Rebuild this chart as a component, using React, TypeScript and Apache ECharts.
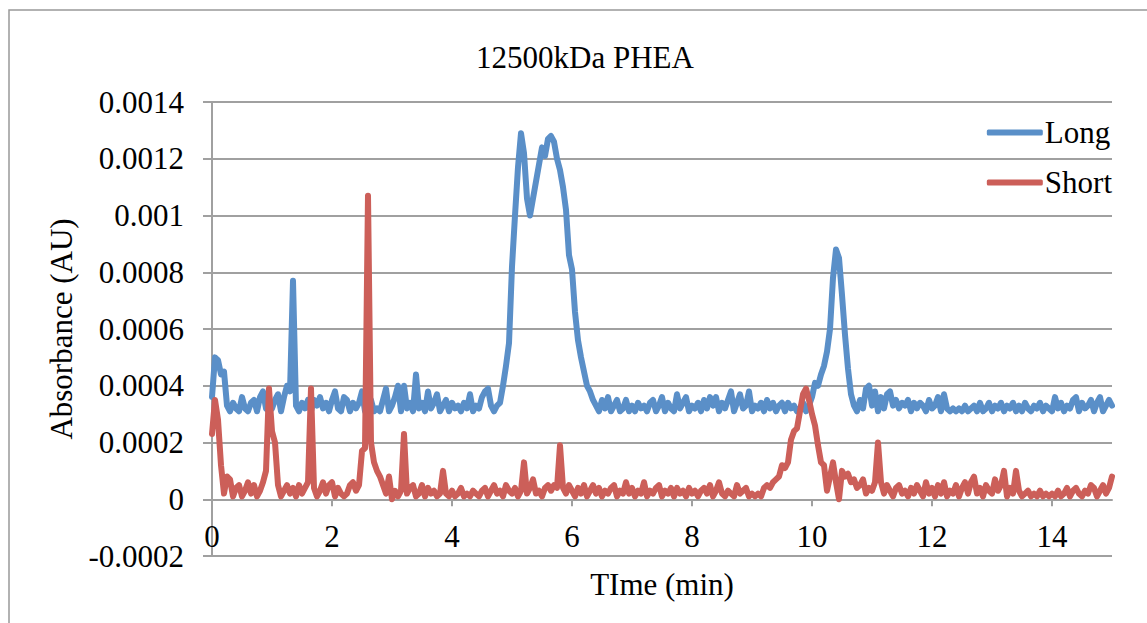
import React, { useEffect, useRef } from "react";
import * as echarts from "echarts";

// Sampling step of the chromatogram (min); values below are read at 0.00, 0.05, 0.10 ... 15.00 min
const TIME_STEP = 0.05;
// Absorbance values in units of 1e-5 AU
const UNIT = 1e-5;

const LONG = [
  36, 50, 49, 44, 45, 33, 31, 34, 32, 31, 36, 32, 31, 34, 35, 31, 36, 38, 32, 31,
  32, 35, 37, 31, 36, 40, 38, 77, 33, 31, 34, 32, 35, 31, 35, 33, 36, 32, 34, 31,
  35, 38, 32, 31, 36, 35, 31, 34, 32, 34, 38, 31, 33, 35, 31, 32, 31, 35, 39, 31,
  33, 36, 40, 31, 40, 32, 34, 31, 44, 32, 34, 31, 38, 32, 34, 37, 31, 33, 35, 31,
  34, 32, 33, 31, 34, 32, 37, 31, 33, 32, 36, 38, 39, 33, 31, 33, 34, 40, 47, 55,
  82, 100, 117, 129, 122, 106, 100, 106, 112, 118, 124, 121, 127, 128, 126, 120, 116, 110, 102, 86,
  81, 66, 56, 50, 45, 40, 38, 35, 33, 31, 35, 32, 36, 31, 33, 35, 31, 32, 35, 31,
  33, 31, 34, 32, 33, 31, 34, 35, 31, 33, 36, 31, 34, 32, 31, 37, 32, 34, 36, 31,
  33, 32, 34, 31, 35, 32, 36, 33, 36, 31, 34, 32, 35, 38, 31, 34, 37, 32, 33, 38,
  31, 33, 32, 34, 31, 35, 32, 34, 31, 33, 34, 31, 34, 32, 33, 31, 32, 34, 31, 33,
  36, 41, 40, 44, 47, 52, 60, 78, 88, 85, 72, 58, 46, 37, 33, 31, 35, 32, 39, 40,
  33, 38, 31, 36, 32, 37, 38, 33, 35, 32, 34, 33, 35, 31, 34, 32, 34, 33, 31, 35,
  32, 33, 36, 31, 37, 32, 31, 32, 31, 32, 31, 33, 31, 32, 33, 31, 34, 31, 32, 34,
  31, 33, 32, 34, 31, 33, 32, 34, 31, 33, 31, 34, 32, 31, 33, 32, 34, 31, 33, 32,
  31, 36, 32, 34, 31, 33, 32, 35, 36, 31, 34, 32, 33, 35, 31, 34, 36, 31, 33, 35,
  33,
];

const SHORT = [
  23, 35, 28, 12, 2, 8, 7, 1, 4, 5, 1, 3, 6, 2, 5, 1, 3, 6, 10, 39,
  24, 20, 5, 1, 3, 5, 2, 4, 1, 5, 2, 4, 6, 39, 4, 1, 3, 6, 2, 5,
  6, 1, 4, 2, 1, 2, 5, 6, 3, 5, 17, 18, 107, 20, 13, 10, 8, 5, 2, 8,
  0, 3, 1, 3, 23, 2, 4, 5, 1, 2, 5, 1, 4, 2, 3, 1, 2, 10, 2, 1,
  3, 1, 2, 4, 1, 2, 1, 3, 2, 1, 3, 4, 1, 3, 5, 2, 3, 1, 5, 3,
  2, 4, 1, 3, 13, 2, 4, 7, 2, 3, 1, 4, 5, 3, 5, 4, 19, 4, 2, 5,
  3, 1, 4, 2, 5, 1, 3, 5, 2, 4, 1, 3, 2, 4, 5, 1, 3, 2, 6, 2,
  4, 1, 3, 2, 6, 1, 3, 2, 4, 5, 1, 3, 2, 4, 1, 4, 2, 3, 1, 4,
  2, 3, 1, 3, 4, 2, 5, 1, 3, 6, 2, 1, 3, 2, 1, 5, 2, 3, 4, 1,
  2, 1, 2, 1, 4, 5, 4, 6, 7, 8, 12, 11, 13, 21, 24, 25, 31, 37, 39, 35,
  30, 26, 19, 13, 12, 3, 8, 13, 6, 0, 10, 8, 9, 6, 7, 4, 5, 7, 2, 4,
  3, 6, 20, 6, 2, 5, 3, 1, 4, 5, 2, 3, 1, 4, 2, 5, 3, 1, 6, 2,
  4, 1, 5, 2, 6, 1, 3, 2, 5, 1, 4, 6, 2, 6, 8, 2, 4, 1, 5, 3,
  2, 7, 3, 5, 10, 1, 4, 2, 10, 3, 1, 2, 3, 1, 2, 1, 3, 1, 2, 1,
  2, 1, 3, 1, 2, 4, 1, 3, 4, 2, 1, 3, 2, 5, 4, 1, 3, 5, 2, 4,
  8,
];

const SERIES_NAMES = ["Long", "Short"];
const SERIES_COLORS = ["#5a8fc8", "#cc5f59"];
const X_TICKS = [0, 2, 4, 6, 8, 10, 12, 14];
const Y_MIN = -0.0002;
const Y_MAX = 0.0014;
const Y_STEP = 0.0002;
const X_MIN = 0;
const X_MAX = 15;
const TITLE = "12500kDa PHEA";
const X_NAME = "TIme (min)";
const Y_NAME = "Absorbance (AU)";

const FONT = "Liberation Serif";
const GRAY = "#a0a0a0";
const FS = 31;

// plot box
const GRID_TOP = 102;
const GRID_BOTTOM = 67;
const PLOT_H = 623 - GRID_TOP - GRID_BOTTOM;
// the horizontal axis crosses the vertical one at 0 (as in the source chart)
const X_AXIS_OFFSET = -(PLOT_H * (0 - Y_MIN)) / (Y_MAX - Y_MIN);

function toPairs(vals: number[]) {
  return vals.map((v, i) => [Number((i * TIME_STEP).toFixed(2)), v * UNIT]);
}

export default function App() {
  const ref = useRef<HTMLDivElement>(null);
  useEffect(() => {
    if (!ref.current) return;
    const chart = echarts.init(ref.current, undefined, { renderer: "svg" });
    chart.setOption({
      animation: false,
      backgroundColor: "#ffffff",
      textStyle: { fontFamily: FONT, color: "#000" },
      title: {
        text: TITLE,
        left: 471,
        top: 37,
        textStyle: { fontFamily: FONT, fontSize: FS, fontWeight: "normal", color: "#000" },
      },
      graphic: [
        {
          type: "rect",
          shape: { x: 9, y: 10, width: 1170, height: 640 },
          style: { fill: "none", stroke: "#999", lineWidth: 1.5 },
          silent: true,
        },
      ],
      legend: {
        orient: "vertical",
        right: 30,
        top: 112,
        align: "left",
        icon: "roundRect",
        itemWidth: 56,
        itemHeight: 6,
        itemGap: 19,
        textStyle: { fontFamily: FONT, fontSize: FS, color: "#000", lineHeight: 31, padding: [0, 0, 0, -3] },
        data: SERIES_NAMES,
      },
      grid: { left: 212, right: 35, top: GRID_TOP, bottom: GRID_BOTTOM, outerBoundsMode: "none", containLabel: false },
      xAxis: {
        type: "value",
        min: X_MIN,
        max: X_MAX,
        interval: 2,
        offset: X_AXIS_OFFSET,
        name: X_NAME,
        nameLocation: "middle",
        nameGap: 70,
        nameTextStyle: { fontFamily: FONT, fontSize: FS, color: "#000" },
        axisLine: { show: true, onZero: false, lineStyle: { color: GRAY, width: 2 } },
        axisTick: { show: true, length: 7, lineStyle: { color: GRAY, width: 2 }, customValues: X_TICKS },
        axisLabel: {
          fontFamily: FONT,
          fontSize: FS,
          color: "#000",
          margin: 22,
          customValues: X_TICKS,
        },
        splitLine: { show: false },
      },
      yAxis: {
        type: "value",
        min: Y_MIN,
        max: Y_MAX,
        interval: Y_STEP,
        name: Y_NAME,
        nameLocation: "middle",
        nameGap: 135,
        nameRotate: 90,
        nameTextStyle: { fontFamily: FONT, fontSize: FS, color: "#000" },
        axisLine: { show: true, onZero: false, lineStyle: { color: GRAY, width: 2 } },
        axisTick: { show: true, length: 9, lineStyle: { color: GRAY, width: 2 } },
        axisLabel: {
          fontFamily: FONT,
          fontSize: FS,
          color: "#000",
          margin: 28,
          formatter: (v: number) => String(Number(v.toFixed(4))),
        },
        splitLine: { show: true, lineStyle: { color: GRAY, width: 2 } },
      },
      series: [
        {
          name: SERIES_NAMES[0],
          type: "line",
          symbol: "none",
          showSymbol: false,
          data: toPairs(LONG),
          lineStyle: { color: SERIES_COLORS[0], width: 6, cap: "round", join: "round" },
          itemStyle: { color: SERIES_COLORS[0] },
        },
        {
          name: SERIES_NAMES[1],
          type: "line",
          symbol: "none",
          showSymbol: false,
          data: toPairs(SHORT),
          lineStyle: { color: SERIES_COLORS[1], width: 6, cap: "round", join: "round" },
          itemStyle: { color: SERIES_COLORS[1] },
        },
      ],
    });
    return () => chart.dispose();
  }, []);
  return (
    <div
      ref={ref}
      style={{ position: "fixed", left: 0, top: 0, width: 1147, height: 623, background: "#fff" }}
    />
  );
}
